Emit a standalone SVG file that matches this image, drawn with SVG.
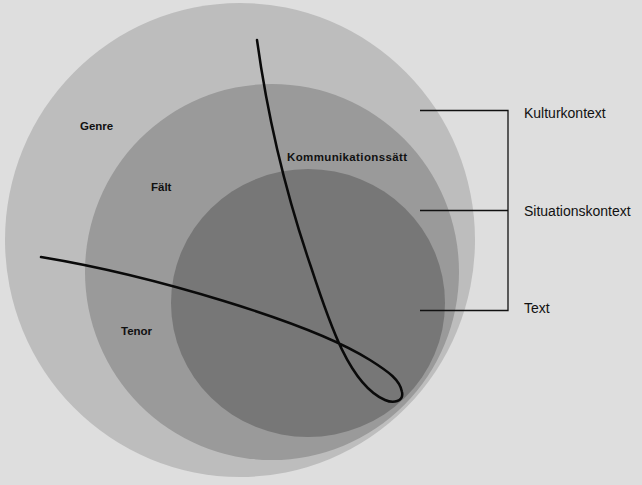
<svg xmlns="http://www.w3.org/2000/svg" width="642" height="485" viewBox="0 0 642 485">
<style>
.bold{font-family:"Liberation Sans",Arial,sans-serif;font-weight:bold;font-size:11.5px;fill:#111}
.lbl{font-family:"Liberation Sans",Arial,sans-serif;font-size:14px;fill:#111}
.ln{stroke:#111;stroke-width:1.3;fill:none}
.curve{stroke:#0a0a0a;stroke-width:2.5;fill:none;stroke-linecap:round;stroke-linejoin:round}
</style>
<rect width="642" height="485" fill="#dedede"/>
<g id="kulturkontext-circle"><ellipse cx="240" cy="240" rx="235" ry="237" fill="#bdbdbd"/></g>
<g id="situationskontext-circle"><ellipse cx="272" cy="272" rx="187" ry="188" fill="#9a9a9a"/></g>
<g id="text-circle"><ellipse cx="308" cy="303" rx="137" ry="134" fill="#777777"/></g>
<g id="connectors">
<path class="curve" d="M257 40 C268 120 288 200 311 267 C330 325 350 385 385 400 C393 403.4 404 402 402 392 C400 380 389 372 370 360 C310 322 150 275 41 257"/>
<path class="ln" d="M420 110.5 H508 V310.5 H420 M420 210.5 H508"/>
</g>
<g id="genre"><text class="bold" x="80" y="130">Genre</text></g>
<g id="falt"><text class="bold" x="151" y="191">Fält</text></g>
<g id="kommunikationssatt"><text class="bold" x="287" y="161" textLength="120">Kommunikationssätt</text></g>
<g id="tenor"><text class="bold" x="121" y="335">Tenor</text></g>
<g id="label-kulturkontext"><text class="lbl" x="524" y="118">Kulturkontext</text></g>
<g id="label-situationskontext"><text class="lbl" x="524" y="216">Situationskontext</text></g>
<g id="label-text"><text class="lbl" x="524" y="313">Text</text></g>
</svg>
